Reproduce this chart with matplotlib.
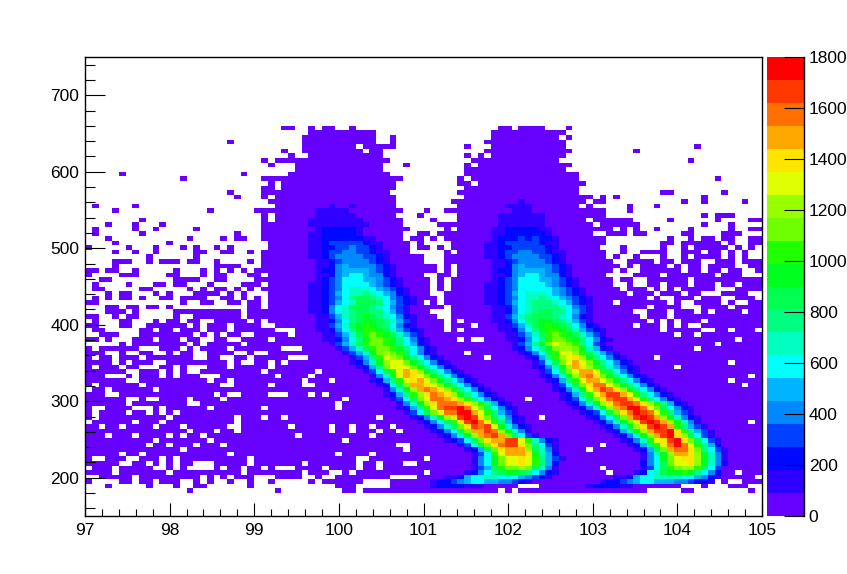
import matplotlib

matplotlib.use("Agg")
import matplotlib.pyplot as plt
import numpy as np
from matplotlib.colors import BoundaryNorm, ListedColormap
from matplotlib.ticker import MultipleLocator

plt.rcParams["font.family"] = ["Liberation Sans", "DejaVu Sans"]

X_EDGES = np.linspace(97, 105, 101)
Y_EDGES = np.linspace(150, 750, 101)
Z_LEVELS = np.arange(0, 1801, 90)
BAND_COLORS = [
    "#6600ff", "#2e00ff", "#0008ff", "#0040ff", "#0088ff",
    "#00b4ff", "#00ffff", "#00ffc0", "#00ff80", "#00ff50",
    "#00ff20", "#20ff00", "#70ff00", "#98ff00", "#e0ff00",
    "#ffe400", "#ffa800", "#ff7000", "#ff3800", "#ff0000",
]
BAND_CHARS = "123456789abcdefghijk"

# occupied cells, first line is bin row 84 (y 654-660), last is bin row 5 (y 180-186)
HIT_ROWS = [
    ".......... .......... .........# #..#.##..# .......... .......... .##.####.. .#........ .......... ..........",
    ".......... .......... .......... ...####### ###....... .......... ########## #......... .......... ..........",
    ".......... .......... .......... ..######## ###..#.... .......... ########## .#........ .......... ..........",
    ".......... .......... .#........ ..######## ###..#.... .........# ########## #......... .......... ..........",
    ".......... .......... .......... ..######## .#####.... ......#... ########## #......... .......... #.........",
    ".......... .......... .........# ..######## #.##...... .........# ########## ##........ .#........ ..........",
    ".......... .......... .......... #..####### ####...... ......#.#. ########## #......... .......... ..........",
    ".......... .......... ......#.## ########## #####..... .......### ########## .......... .........# ..........",
    ".......... .......... .......#.. .######### ####...#.. ......#.## ########## ##........ .......... ..........",
    ".......... .......... .......... .######### ####...... ......#### ########## #......... .......... ..........",
    ".....#.... .......... ...#...... ########## #####..... ......#### ########## ###....... .......... ..........",
    ".......... ....#..... ......#### ########## #######... .....#.### ########## ###....... .......... ...#......",
    ".......... .......... .......#.# ########## ######.... .....##.## ########## ####...... .......... ..........",
    ".......... .......... ......##.# ########## ######.... ......#### ########## ###....... .......... ..........",
    ".......... .......... .#....#### ########## #####..... .....##### ########## ###....... .....##... ....#.....",
    ".......... .......... ..#...#.## ########## ######.... ......#### ########## #####.#.#. .......... .#........",
    ".......... .......... .......### ########## ######.... ....###### ########## ####.##... ........#. .#.....#..",
    ".#.....#.. .......... ........## ########## ######.... .....##### ########## ###.#..... #...#..... ..........",
    "....#..... ........#. .....##### ########## #######... #..####### ########## #######... #......... ..........",
    ".......... .......... ......#.## ########## ######...# .....##### ########## #######... .......... .#.###....",
    "........#. .......... ......#.## ########## #######... .#...##### ########## ####.##### #.....#... ...#....##",
    "...#...#.. .#........ ......#### ########## #######... ..######## ########## #####.#### ##........ .#...#....",
    ".#.....#.. #.....#... ......#### ########## ########.. ...#.##### ########## ########.# .#..#....# .....#..##",
    ".#......#. .......... ..#...#### ########## #######..# #.######## ########## #####..### .##.....## ....###...",
    "...#...... .....#.... #.##..#### ########## #######.## .#.####### ########## #######... ......#..# .##.##..##",
    "....#..... ..#....... .......### ########## ########.# ....###### ########## #######... .....##.## ####.#..##",
    "#.....#... #...#.#..# .#.....### ########## ########.# #.#.###### ########## ######...# .....#..#. #####.#.#.",
    "....#..#.. #.....##.. ##..#.#### ########## ########.. ...#.##### ########## #######..# ..####..## #.##.#.#..",
    ".........# ......#... ......#### ########## ########## ...####### ########## #######.#. .#...#..#. ####.#.#..",
    "....###..# .###.##..# ....#.#### ########## ########## ...####### ########## ########.. ####.##.## #..###.###",
    "....#..... .........# ###...#### ########## ########## ##.#.##### ########## #########. #.####.#.# #.####..##",
    "##.##..#.. ...#...#.# .#.#.##### ########## ########## ##.#.##### ########## ########.# ..######.# #.##.##..#",
    "#....###.. ..##...#.# #...##.### ########## ########## ..##.##### ########## #######... .####.#### ###.###...",
    "..##...... ...####..# #....##### ########## ########## #.#.###### ########## ########.# #..######. ##########",
    ".#....#... ##.##...#. ...###.### ########## ########## #.#.###### ########## ########.. #..##.###. ###.##.###",
    ".##.....## .....#.#.# #.#.#.#### ########## ########## #.#.###### ########## #########. ###.#.#.## ###...####",
    "...#.##... #.#...#### .#.#...### ########## ########## #..####### ########## ########## .###.###.# #...####..",
    ".#.#.##.#. .##.####.. ##.#.#.### ########## ########## ##.####### ########## ########## ###.#..### .###..###.",
    "##........ ....#..##. .##.##.### ########## ########## .#.####### ########## ########.# ######.#.. ####.#..##",
    "...##.##.# #.#....... ....##.### ########## ########## ###.###### ########## ########## ###.####.. .####.####",
    "...###.#.. ...####### ###.###### ########## ########## #...###### ########## ########## #..###.### .#.####.##",
    "##..#.##.. ...#..#### ###.###### ########## ########## ##..###### ########## ########## ##.###.### ##########",
    ".#...##... #.##.##..# ####.#.### ########## ########## ###.#.#### ########## ########## ###.#.#.## #.########",
    "##...##..# #####.#.## #.####..## ########## ########## ###.###.## ########## ########## #.###.#.#. .#########",
    ".##.....## .##.###.## #.######.. .######### ########## ###.#.#### ########## ########## #####.#### #..##.###.",
    "..###...## ######.#.# .##..##### .######### ########## ########## ########## ########## #######.## .#########",
    "##.#...### .###.##..# #..####.## ########## ########## #####.#..# ########## ########## ########## ######.###",
    ".....#.### #####.#.## ###.###### ########## ########## ########## ########## ########## ########## ###.######",
    "#.######.. .###.#.### #.#######. ..######## ########## ########## ########## ########## ########## .#########",
    "###..#..## ..#.##..## ##..#..### ########## ########## ######.### ########## ########## ########## ##########",
    "#.##.###.# ######..## ..##.##### ...####### ########## #########. ########## ########## ####.##### ##########",
    "####.#.### ..######## #.#..##.#. ########## ########## ########## ########## ########## ########## #####.####",
    "#.###.##.. .##.#...## #.#####.## ########## ########## ########## ########## ########## #######.## ##########",
    "######..## #.#.#..### ######.### ####.##### ########## ########## ########## ########## ########## ##########",
    "###...#.## #.#.###... ########.# ###.###### ########## ########## ########## ########## ########## ########.#",
    "######..## ########.# #.######## ##.###.### ########## ########## ########## ########## ########## #####.####",
    "#.######.# ########## ..#####.## ##..###### ########## ########## ########## ########## ########## #######.##",
    ".##.###### .######### ########## ########## ########## ########## ########## ########## ########## ##########",
    "###..##### #########. #..####... ###.#.#### ########## ########## ########## ########## ########## ##########",
    "######..#. .####.#### .######### ########.# ########## ########## #####.#### ########## ########## ##########",
    "######.### #####..### ########## #######.## ########## ########## ########## ########## ########## ##########",
    "#..####... #.######.# ######.### #######.## ########## ########## ########## ########## ########## ##########",
    "#.####.##. #.#.###### ########## ########## ########## ########## ########## ########## ########## ##########",
    "#.######## ##.####### ##.###.##. ########## ###.###### ########## #######.## ########## ########## ##########",
    ".######.## #.######## ##.####### ########## ########## ########## ########## ########## ########## ########.#",
    "##.##.#### .###.##### #..####### .#####.##. ##.##.#### ########## ########## ########## ########## ##########",
    "########## #####.###. ##.####### ######.##. ###.##.### ########## ########## ########## ########## ##########",
    "###.###.## ##.#.##.## ########## #.######## ##.####### ########## ########## ########## ########## ##########",
    "########## .#######.# ########## ########.# ########## ########## ########## ########## ########## ##########",
    "#########. ##.###.### .######### ########## ######..## ########## ########## ######.### ########## ##########",
    "########## ####.##### ########## ########## #######.## ########## ########## ####.##### ########## ##########",
    "#####.##.# ########## #.######## #######.## ##.####### ########## ########## ########## ########## ##########",
    "#..###..## #.#.###### ####.##### ########## ..######## .######### ########## ########## ########## ##########",
    "#####..##. #.#.##...# ####.##### ##.####### .##.###..# ########## ########## ########## ########## ##########",
    ".###.##### ..#.#....# .##.##.#.. .####.#### .##.###### ########## ########## ######.### ########## ##########",
    "####.##### ##.####### ###.###### ##.###..#. ########## .######### ########## #######.## ########## ######.###",
    "..#####.## #######.#. #.###...## ##..#..### #####....# ########## ########## ########## ########## #########.",
    "#....##.## .###..#.#. .#..#..#.. ...#.##### #....##### ########## ########## ########## ########## ##..#..###",
    "...#.....# ...#..##.. ....#..... .......### .....##### ########## ####...### ########## ########.. .#...###..",
    ".......... .....#.... ........#. ........## .######### ########## #.#.###### ########## ###.....## ........#.",
]

# colored core of the left band: (bin row, first column, band codes)
CORE_LEFT = [
    (6, 51, "23333222"), (7, 51, "233456776655432"), (8, 53, "2236778877765432"),
    (9, 56, "23579abba97532"), (10, 57, "246acddeda852"), (11, 57, "257bdffgfc963"),
    (12, 57, "257bdffgfc9642"), (13, 57, "247cfhhhgb863"), (14, 56, "236adghhhea852"),
    (15, 55, "247adgijjgd9742"), (16, 53, "2347adghhjjfc8532"), (17, 52, "2358behijhda742"),
    (18, 51, "2357adhhjieb852"), (19, 50, "2358adgjijfb8532"), (20, 49, "2357acgjkifc9632"),
    (21, 48, "2358begjkjgda8532"), (22, 47, "247adfiikkhfc9642"), (23, 46, "2369cfijjkifda7532"),
    (24, 46, "258begiiihgec9632"), (25, 45, "247adfiihgec97532"), (26, 44, "2369cegihgeb97532"),
    (27, 44, "258behihgec97532"), (28, 43, "237adhhgfdb97532"), (29, 42, "2369cfghfdb97532"),
    (30, 42, "258bfhgfdb97532"), (31, 41, "247acfhgeb97532"), (32, 40, "2369dfffdb97532"),
    (33, 39, "2358beffdb97532"), (34, 39, "2469cfedb97532"), (35, 38, "2468bdedca7532"),
    (36, 37, "2468acddcb97532"), (37, 36, "2468acddcb97632"), (38, 35, "223579bddcb97532"),
    (39, 35, "22468acdcba8642"), (40, 34, "223579bccba86432"), (41, 34, "22468abcba97532"),
    (42, 34, "223579abba98642"), (43, 34, "224689aba987532"), (44, 33, "2235789aa997642"),
    (45, 33, "223578aaa987542"), (46, 33, "2234678aaa976432"), (47, 33, "2234579aa9875432"),
    (48, 33, "223467889876532"), (49, 33, "223457888765432"), (50, 33, "22345777765432"),
    (51, 34, "2345777665432"), (52, 34, "223567765532"), (53, 34, "233566665432"),
    (54, 34, "223565555432"), (55, 34, "22345555432"), (56, 33, "223455554432"),
    (57, 33, "223445544322"), (58, 33, "22334454432"), (59, 33, "22344444322"),
    (60, 33, "2233333322"), (61, 33, "22333332"), (62, 34, "2333332"),
    (63, 33, "222222222"), (64, 33, "22222222"), (65, 34, "222222"),
    (66, 34, "22222"), (67, 36, "2"), (67, 39, "2"),
]

# colored core of the right band
CORE_RIGHT = [
    (6, 74, "2333322"), (7, 76, "23345677666554332"), (8, 78, "2236778888776532"),
    (9, 81, "2378abbcb9753"), (10, 82, "247acdeeca74"), (11, 82, "357adffgeb853"),
    (12, 82, "257bdfggeb852"), (13, 82, "258behhgeb852"), (14, 81, "236adhiigd9742"),
    (15, 80, "2369cfikifc963"), (16, 79, "2358cfgjkgda742"), (17, 78, "2358behjkgea742"),
    (18, 77, "2368behjjkgc9642"), (19, 76, "2358begjkjhc9642"), (20, 75, "2358bdgjkjheb852"),
    (21, 74, "2357adhjkjheb8532"), (22, 73, "2347adgikjifc9642"), (23, 72, "2358behikkifda7532"),
    (24, 71, "2358begijjigec9632"), (25, 70, "2347adgijjhfc97532"), (26, 70, "2369cfhjjhfc97532"),
    (27, 69, "2358bfhjigeb97532"), (28, 69, "247adgiifdb97532"), (29, 68, "2369cfhhfdb97532"),
    (30, 67, "2358behigdb97532"), (31, 67, "247adfhhfca7532"), (32, 66, "2358behgeca86432"),
    (33, 66, "247adfhfdb97532"), (34, 65, "2369cefgeb97532"), (35, 64, "2357acffeca8642"),
    (36, 63, "23579bdeedb8632"), (37, 63, "2469bdfedc9742"), (38, 62, "223579cddcb97532"),
    (39, 62, "22468acdcba8642"), (40, 61, "223579bccba86432"), (41, 61, "22468abcba97532"),
    (42, 60, "223579abba98642"), (43, 60, "224689aaa987532"), (44, 60, "2235789aa997642"),
    (45, 60, "223578999987542"), (46, 59, "2234678999876432"), (47, 59, "2234578898765432"),
    (48, 59, "223467888765432"), (49, 59, "223457777765432"), (50, 59, "22345777765432"),
    (51, 60, "2345777665432"), (52, 60, "223567765532"), (53, 60, "233566665432"),
    (54, 60, "223565555432"), (55, 60, "22345555432"), (56, 59, "223455554432"),
    (57, 59, "223445544322"), (58, 59, "22334444432"), (59, 59, "22344444322"),
    (60, 60, "2333434332"), (61, 60, "223333332"), (62, 60, "223333322"),
    (63, 61, "2222222"), (64, 61, "2222222"), (65, 61, "2222222"),
    (66, 63, "222"), (67, 62, "2222"), (68, 64, "2"),
]


def build_grid():
    bands = np.zeros((100, 100))
    for k, row in enumerate(HIT_ROWS):
        cells = row.replace(" ", "").ljust(100, ".")[:100]
        for col, c in enumerate(cells):
            if c == "#":
                bands[84 - k, col] = 1
    for row, start, codes in CORE_LEFT + CORE_RIGHT:
        for n, c in enumerate(codes):
            if start + n < 100:
                bands[row, start + n] = BAND_CHARS.index(c) + 1
    return np.ma.masked_equal(bands, 0)


W, H = 847, 574
fig = plt.figure(figsize=(W / 100, H / 100), dpi=100)
ax = fig.add_axes([85 / W, 1 - 516 / H, 677 / W, 459 / H])
cax = fig.add_axes([767 / W, 1 - 516 / H, 37 / W, 459 / H])

cmap = ListedColormap(BAND_COLORS)
norm = BoundaryNorm(Z_LEVELS, cmap.N)
counts = (build_grid() - 0.5) * 90
ax.pcolormesh(X_EDGES, Y_EDGES, counts, cmap=cmap, norm=norm, linewidth=0, rasterized=True)

ax.set_xlim(97, 105)
ax.set_ylim(150, 750)
ax.xaxis.set_major_locator(MultipleLocator(1))
ax.xaxis.set_minor_locator(MultipleLocator(0.2))
ax.yaxis.set_major_locator(MultipleLocator(100))
ax.yaxis.set_minor_locator(MultipleLocator(20))
ax.tick_params(axis="x", which="major", direction="in", length=9.4, width=0.8, pad=5, labelsize=12.5)
ax.tick_params(axis="x", which="minor", direction="in", length=5, width=0.8)
ax.tick_params(axis="y", which="major", direction="in", length=14.4, width=0.8, pad=4, labelsize=12.5)
ax.tick_params(axis="y", which="minor", direction="in", length=7.2, width=0.8)
for s in ax.spines.values():
    s.set_linewidth(1.0)

cax.pcolormesh([0, 1], Z_LEVELS, Z_LEVELS[:-1, None] + 45, cmap=cmap, norm=norm)
cax.set_xlim(0, 1)
cax.set_ylim(0, 1800)
cax.set_xticks([])
cax.yaxis.tick_right()
cax.set_yticks(np.arange(0, 1801, 200))
cax.tick_params(axis="y", direction="in", length=14.4, width=0.8, pad=3.5, labelsize=12.5)
for name in ("left", "top", "bottom"):
    cax.spines[name].set_visible(False)
cax.spines["right"].set_linewidth(1.0)

fig.savefig("out.png", dpi=100)
